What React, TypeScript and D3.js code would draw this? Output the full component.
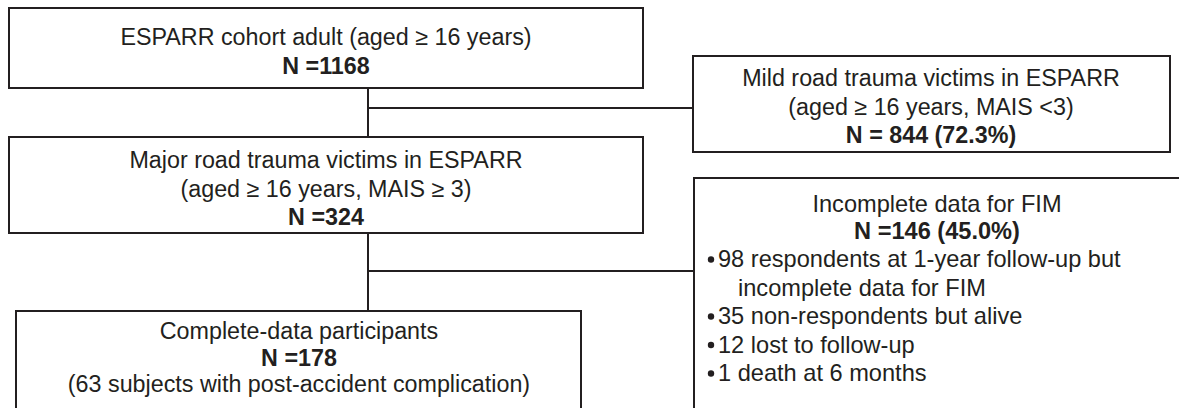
import React, { useEffect, useRef } from "react";
import * as d3 from "d3";

const W = 1179;
const H = 408;

// Text content
const cohortLines = ["ESPARR cohort adult (aged \u2265 16 years)", "N =1168"];
const mildLines = ["Mild road trauma victims in ESPARR", "(aged \u2265 16 years, MAIS <3)", "N = 844 (72.3%)"];
const majorLines = ["Major road trauma victims in ESPARR", "(aged \u2265 16 years, MAIS \u2265 3)", "N =324"];
const incompleteHeader = ["Incomplete data for FIM", "N =146 (45.0%)"];
const incompleteBullets = [
  ["98 respondents at 1-year follow-up but", "incomplete data for FIM"],
  ["35 non-respondents but alive"],
  ["12 lost to follow-up"],
  ["1 death at 6 months"],
];
const completeLines = ["Complete-data participants", "N =178", "(63 subjects with post-accident complication)"];
const boldLines = ["N =1168", "N = 844 (72.3%)", "N =324", "N =146 (45.0%)", "N =178"];

const INK = "#231f20";
const FONT = "'Liberation Sans', Arial, Helvetica, sans-serif";
const FS = 23.3;
const LH = 28.5;

export default function App() {
  const ref = useRef<SVGSVGElement | null>(null);
  useEffect(() => {
    const svg = d3.select(ref.current);
    svg.selectAll("*").remove();
    const g = svg.append("g");

    const box = (x0: number, y0: number, x1: number, y1: number) =>
      g.append("rect").attr("x", x0).attr("y", y0).attr("width", x1 - x0).attr("height", y1 - y0)
        .attr("fill", "#fff").attr("stroke", INK).attr("stroke-width", 2);
    const line = (pts: [number, number][]) =>
      g.append("path").attr("d", d3.line()(pts) as string).attr("fill", "none").attr("stroke", INK).attr("stroke-width", 2);
    const text = (s: string, x: number, y: number, anchor = "middle", fs = FS) =>
      g.append("text").attr("x", x).attr("y", y).attr("text-anchor", anchor)
        .attr("font-family", FONT).attr("font-size", fs)
        .attr("font-weight", boldLines.includes(s) ? "bold" : "normal")
        .attr("fill", INK).text(s);

    // connectors
    line([[368, 88], [368, 137]]);
    line([[368, 108], [693, 108]]);
    line([[368, 233], [368, 311]]);
    line([[368, 271], [694, 271]]);

    // boxes
    box(9, 8, 643, 88);
    cohortLines.forEach((s, i) => text(s, 326, 45 + i * 29, "middle"));

    box(693, 56, 1170, 152);
    mildLines.forEach((s, i) => text(s, 931, 86 + i * 28.5, "middle"));

    box(9, 137, 643, 233);
    majorLines.forEach((s, i) => text(s, 326, 168 + i * 28.5, "middle"));

    box(694, 178, 1195, 430);
    incompleteHeader.forEach((s, i) => text(s, 937, 212 + i * 26.5, "middle", 23.6));
    let row = 0;
    incompleteBullets.forEach((b) => {
      b.forEach((s, j) => {
        const y = 267 + row * LH;
        if (j === 0) g.append("circle").attr("cx", 711).attr("cy", y - 7.5).attr("r", 3.2).attr("fill", INK);
        text(s, j === 0 ? 718 : 738, y, "start", 23.6);
        row++;
      });
    });

    box(16, 311, 581, 430);
    completeLines.forEach((s, i) => text(s, 299, 339 + i * 26.5, "middle"));
  }, []);
  return <svg ref={ref} width={W} height={H} style={{ display: "block", position: "absolute", left: 0, top: 0 }} />;
}
